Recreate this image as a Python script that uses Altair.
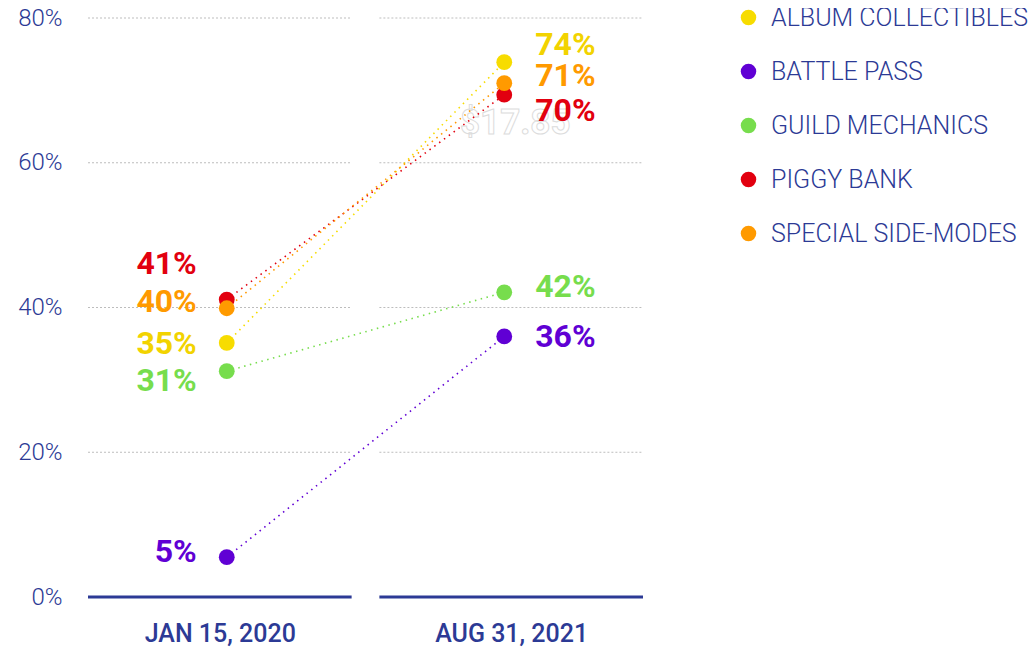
import altair as alt
import pandas as pd

# ---------------- data ----------------
series = ["ALBUM COLLECTIBLES", "BATTLE PASS", "GUILD MECHANICS", "PIGGY BANK", "SPECIAL SIDE-MODES"]
dates = ["JAN 15, 2020", "AUG 31, 2021"]
jan_values = [35.1, 5.5, 31.2, 41.1, 39.9]
aug_values = [73.9, 36.0, 42.1, 69.4, 71.0]
jan_labels = ["35%", "5%", "31%", "41%", "40%"]
aug_labels = ["74%", "36%", "42%", "70%", "71%"]
# label anchor heights (in % units) after de-overlapping, as in the picture
jan_label_y = [35.0, 6.2, 29.8, 46.0, 40.8]
aug_label_y = [76.3, 35.9, 42.9, 67.1, 72.0]
y_ticks = [0, 20, 40, 60, 80]
ghost_text = "$17.85"
ghost_value = 65.5

# ---------------- style ----------------
colors = ["#f7dc00", "#6000d4", "#77dd4d", "#e2000f", "#ff9a00"]
text_colors = ["#f2d300", "#6000d4", "#77dd4d", "#e2000f", "#ff9a00"]
axis_blue = "#2c3a95"
FONT = "Roboto"
W, H = 555, 579
gap = 0.1
segments = [(i - 0.5 + (gap / 2 if i > 0 else 0), i + 0.5 - (gap / 2 if i < len(dates) - 1 else 0))
            for i in range(len(dates))]
centers = [(a + b) / 2 for a, b in segments]

# ---------------- tables ----------------
grid_rows, base_rows = [], []
for (a, b) in segments:
    for t in y_ticks[1:]:
        grid_rows.append({"x": a, "x2": b, "y": t})
    base_rows.append({"x": a, "x2": b, "y": 0})
grid_df = pd.DataFrame(grid_rows)
base_df = pd.DataFrame(base_rows)

pts = []
for s, v0, v1 in zip(series, jan_values, aug_values):
    pts.append({"series": s, "x": 0, "y": v0})
    pts.append({"series": s, "x": 1, "y": v1})
pts_df = pd.DataFrame(pts)
line_df = pts_df.rename(columns={"series": "key"})

jan_lab_df = pd.DataFrame({"key": series, "x": 0, "y": jan_label_y, "label": jan_labels})
aug_lab_df = pd.DataFrame({"key": series, "x": 1, "y": aug_label_y, "label": aug_labels})
ghost_df = pd.DataFrame({"x": [1], "y": [ghost_value], "label": [ghost_text]})

label_expr = " : ".join(
    [f"datum.value < {(centers[i] + centers[i + 1]) / 2} ? '{dates[i]}'" for i in range(len(dates) - 1)]
) + f" : '{dates[-1]}'"

xs = alt.Scale(domain=[-0.5, 1.5], nice=False, zero=False)
ys = alt.Scale(domain=[0, 80], nice=False)

X = alt.X("x:Q", scale=xs, title=None,
          axis=alt.Axis(values=centers, labelExpr=label_expr, domain=False, ticks=False, grid=False,
                        labelPadding=24, labelFontSize=25, labelFont=FONT, labelFontWeight=500,
                        labelColor=axis_blue))
Y = alt.Y("y:Q", scale=ys, title=None,
          axis=alt.Axis(values=y_ticks, labelExpr="datum.value + '%'", domain=False, ticks=False,
                        grid=False, labelPadding=26, labelFontSize=24, labelFont=FONT,
                        labelFontWeight=300, labelColor=axis_blue))

grid = alt.Chart(grid_df).mark_rule(color="#bdbdbd", strokeDash=[2, 2], strokeWidth=1).encode(
    x=X, x2="x2:Q", y=Y)
base = alt.Chart(base_df).mark_rule(color=axis_blue, strokeWidth=3).encode(
    x=X, x2="x2:Q", y=Y)
ghost = alt.Chart(ghost_df).mark_text(fill="white", stroke="#dcdcdc", strokeWidth=1, fontSize=35,
                                      font=FONT, fontWeight="bold", dx=11).encode(
    x=X, y=Y, text="label:N")
# series names are already in ascending order, so the default sorted domain matches
lines = alt.Chart(line_df).mark_line(strokeDash=[1.5, 4.5], strokeWidth=1.6).encode(
    x=X, y=Y,
    stroke=alt.Stroke("key:N", scale=alt.Scale(range=colors), legend=None))
points = alt.Chart(pts_df).mark_circle(size=250, opacity=1).encode(
    x=X, y=Y,
    color=alt.Color("series:N", scale=alt.Scale(domain=series, range=colors),
                    legend=alt.Legend(title=None, orient="none", legendX=648, legendY=-13,
                                      symbolType="circle", symbolSize=240,
                                      labelFontSize=25, labelFont=FONT, labelFontWeight=300,
                                      labelColor=axis_blue, rowPadding=28, labelOffset=10,
                                      labelLimit=500)))
fill_scale = alt.Scale(range=text_colors)
jan_text = alt.Chart(jan_lab_df).mark_text(align="right", baseline="middle", dx=-30, fontSize=32,
                                           font=FONT, fontWeight="bold").encode(
    x=X, y=Y, text="label:N", fill=alt.Fill("key:N", scale=fill_scale, legend=None))
aug_text = alt.Chart(aug_lab_df).mark_text(align="left", baseline="middle", dx=31, fontSize=32,
                                           font=FONT, fontWeight="bold").encode(
    x=X, y=Y, text="label:N", fill=alt.Fill("key:N", scale=fill_scale, legend=None))

chart = alt.layer(grid, base, ghost, lines, points, jan_text, aug_text).properties(
    width=W, height=H,
    autosize=alt.AutoSizeParams(type="none"),
    padding={"left": 80, "top": 10, "right": 385, "bottom": 50},
    background="white",
).configure_view(stroke=None)

chart.save("out.html", embed_options={"renderer": "svg", "actions": False})
